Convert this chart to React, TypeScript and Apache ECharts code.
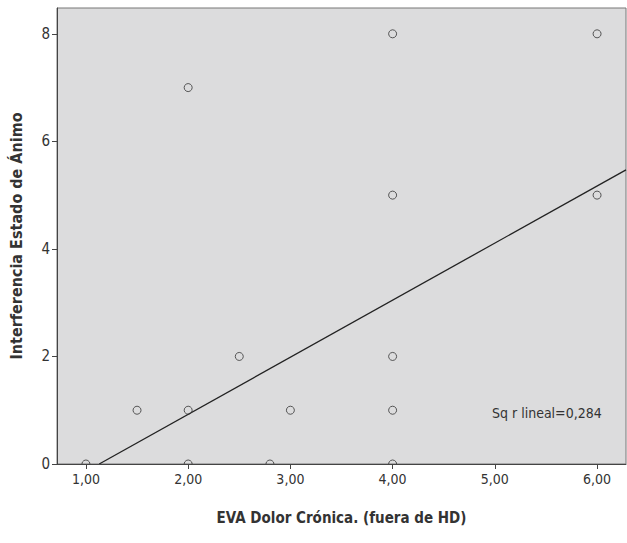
import React, { useEffect, useRef } from "react";
import * as echarts from "echarts";

const xValues = [1, 1.5, 2, 2, 2, 2.5, 2.8, 3, 4, 4, 4, 4, 4, 6, 6];
const yValues = [0, 1, 0, 1, 7, 2, 0, 1, 0, 1, 2, 5, 8, 5, 8];
const fitLineX = [1.13, 6.283];
const fitLineY = [0, 5.47];
const xTicks = [1, 2, 3, 4, 5, 6];
const yTicks = [0, 2, 4, 6, 8];
const xTitle = "EVA Dolor Crónica. (fuera de HD)";
const yTitle = "Interferencia Estado de Ánimo";
const rLabel = "Sq r lineal=0,284";

const FONT = "'Liberation Sans Narrow', 'DejaVu Sans Condensed', 'Liberation Sans', sans-serif";

export default function App() {
  const ref = useRef<HTMLDivElement>(null);
  useEffect(() => {
    if (!ref.current) return;
    const chart = echarts.init(ref.current, null, { renderer: "svg" });
    const points = xValues.map((x, i) => [x, yValues[i]]);
    const line = fitLineX.map((x, i) => [x, fitLineY[i]]);
    chart.setOption({
      animation: false,
      backgroundColor: "#ffffff",
      textStyle: { fontFamily: FONT },
      grid: {
        left: 56,
        right: 1,
        top: 8,
        bottom: 79,
        show: true,
        backgroundColor: "#dcdcdd",
        borderColor: "#777777",
        borderWidth: 1,
      },
      xAxis: {
        type: "value",
        min: 0.717,
        max: 6.283,
        z: 10,
        splitLine: { show: false },
        axisLine: { show: true, onZero: false, lineStyle: { color: "#444", width: 1 } },
        axisTick: { show: true, length: 5, customValues: xTicks, lineStyle: { color: "#444" } },
        axisLabel: {
          customValues: xTicks,
          formatter: (v: number) => v.toFixed(2).replace(".", ","),
          color: "#333",
          fontSize: 14,
          fontFamily: FONT,
          margin: 8,
        },
        name: xTitle,
        nameLocation: "middle",
        nameGap: 46,
        nameTextStyle: { fontSize: 15, fontWeight: "bold", color: "#333", fontFamily: FONT },
      },
      yAxis: {
        type: "value",
        min: 0,
        max: 8.48,
        z: 10,
        splitLine: { show: false },
        axisLine: { show: true, onZero: false, lineStyle: { color: "#444", width: 1 } },
        axisTick: { show: true, length: 5, customValues: yTicks, lineStyle: { color: "#444" } },
        axisLabel: {
          customValues: yTicks,
          color: "#333",
          fontSize: 15,
          fontFamily: FONT,
          margin: 7,
        },
        name: yTitle,
        nameLocation: "middle",
        nameGap: 33,
        nameTextStyle: { fontSize: 16, fontWeight: "bold", color: "#333", fontFamily: FONT },
      },
      series: [
        {
          type: "line",
          data: line,
          symbol: "none",
          lineStyle: { color: "#222", width: 1.3 },
          z: 2,
        },
        {
          type: "scatter",
          data: points,
          symbol: "circle",
          symbolSize: 8,
          itemStyle: { color: "transparent", borderColor: "#333", borderWidth: 1 },
          z: 3,
        },
      ],
      graphic: [
        {
          type: "rect",
          z: 5,
          shape: { x: 57, y: 465, width: 569, height: 6 },
          style: { fill: "#ffffff" },
          silent: true,
        },
        {
          type: "text",
          left: 492,
          top: 406,
          z: 6,
          style: { text: rLabel, fontSize: 14, fontWeight: "normal", fill: "#333", fontFamily: FONT },
        },
      ],
    });
    return () => chart.dispose();
  }, []);
  return <div ref={ref} style={{ width: 627, height: 543, position: "absolute", left: 0, top: 0 }} />;
}
